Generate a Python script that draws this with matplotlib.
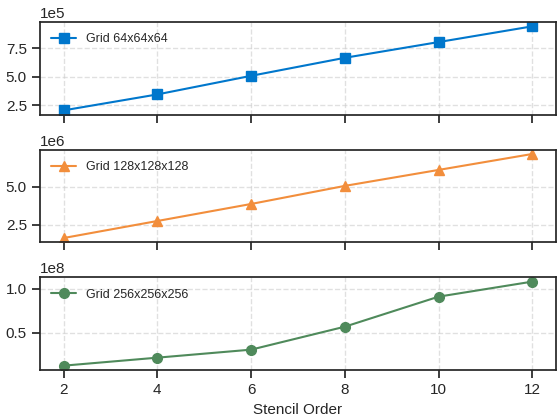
import matplotlib
matplotlib.use("Agg")
import matplotlib.pyplot as plt
import seaborn as sns

stencil_orders = [2, 4, 6, 8, 10, 12]
grid_labels = ["Grid 64x64x64", "Grid 128x128x128", "Grid 256x256x256"]
vals_64 = [2.06e5, 3.46e5, 5.09e5, 6.67e5, 8.05e5, 9.43e5]
vals_128 = [1.64e6, 2.76e6, 3.88e6, 5.07e6, 6.12e6, 7.17e6]
vals_256 = [0.125e8, 0.216e8, 0.307e8, 0.568e8, 0.909e8, 1.08e8]

colors = ["#0077cc", "#f28e3c", "#4f8a5b"]
markers = ["s", "^", "o"]

sns.set_theme(style="ticks")
plt.rcParams["font.family"] = ["Arial", "Liberation Sans", "DejaVu Sans"]

fig, axes = plt.subplots(3, 1, figsize=(5.57, 4.17), dpi=100, sharex=True)
series = [vals_64, vals_128, vals_256]

for ax, vals, lab, c, m in zip(axes, series, grid_labels, colors, markers):
    ax.plot(stencil_orders, vals, color=c, marker=m, markersize=7, linewidth=1.5, label=lab)
    ax.grid(True, linestyle="--", alpha=0.6)
    ax.legend(loc="upper left", frameon=False, fontsize=9)
    ax.ticklabel_format(axis="y", style="sci", scilimits=(0, 0))
    ax.tick_params(labelsize=11)
    ax.yaxis.get_offset_text().set_fontsize(11)

axes[0].set_yticks([2.5e5, 5e5, 7.5e5])
axes[1].set_yticks([2.5e6, 5e6])
axes[2].set_yticks([0.5e8, 1.0e8])
axes[2].set_xticks(stencil_orders)
axes[2].set_xlabel("Stencil Order", fontsize=11)

fig.subplots_adjust(left=0.072, right=0.998, bottom=0.113, top=0.947, hspace=0.38)
fig.savefig("out.png", dpi=100)
